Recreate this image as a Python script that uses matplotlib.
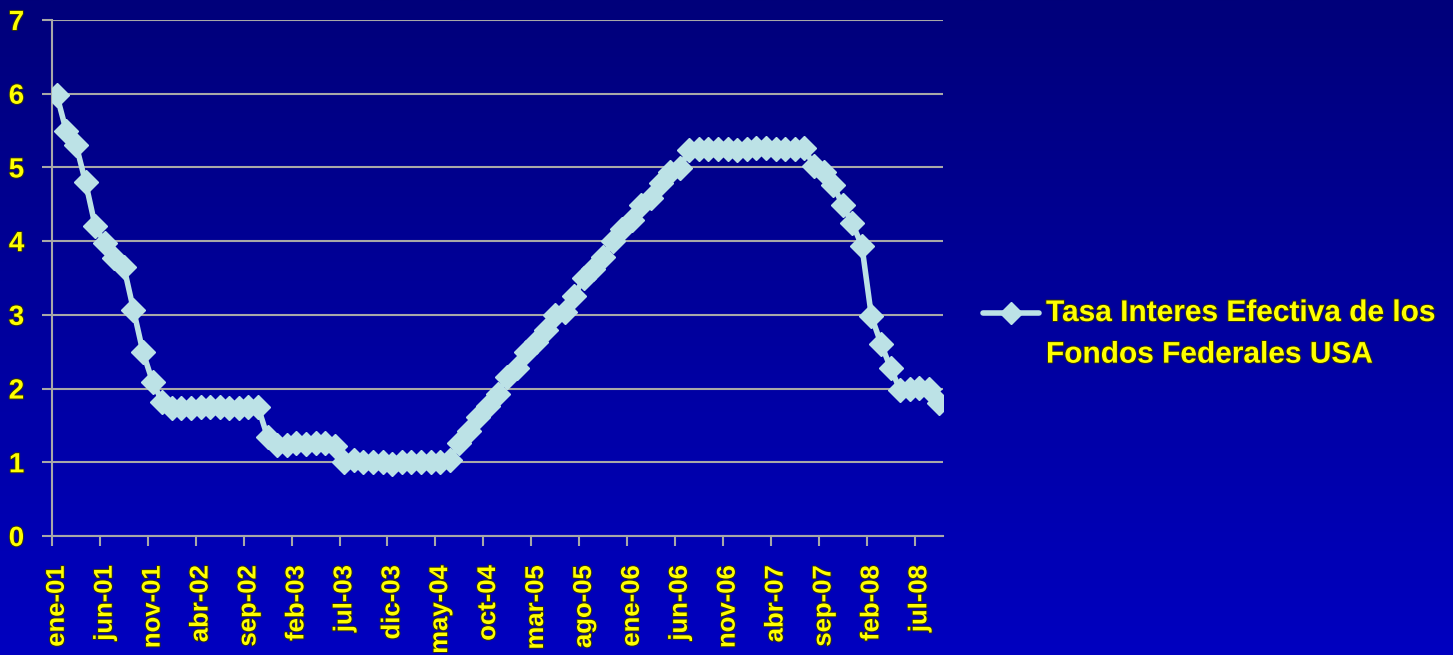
import numpy as np
import matplotlib
matplotlib.use("Agg")
import matplotlib.pyplot as plt
from matplotlib.lines import Line2D
import matplotlib.patheffects as pe

# ---- data ----
months = [
    "ene-01","feb-01","mar-01","abr-01","may-01","jun-01","jul-01","ago-01","sep-01","oct-01","nov-01","dic-01",
    "ene-02","feb-02","mar-02","abr-02","may-02","jun-02","jul-02","ago-02","sep-02","oct-02","nov-02","dic-02",
    "ene-03","feb-03","mar-03","abr-03","may-03","jun-03","jul-03","ago-03","sep-03","oct-03","nov-03","dic-03",
    "ene-04","feb-04","mar-04","abr-04","may-04","jun-04","jul-04","ago-04","sep-04","oct-04","nov-04","dic-04",
    "ene-05","feb-05","mar-05","abr-05","may-05","jun-05","jul-05","ago-05","sep-05","oct-05","nov-05","dic-05",
    "ene-06","feb-06","mar-06","abr-06","may-06","jun-06","jul-06","ago-06","sep-06","oct-06","nov-06","dic-06",
    "ene-07","feb-07","mar-07","abr-07","may-07","jun-07","jul-07","ago-07","sep-07","oct-07","nov-07","dic-07",
    "ene-08","feb-08","mar-08","abr-08","may-08","jun-08","jul-08","ago-08","sep-08",
]
rate = [
    5.98, 5.49, 5.31, 4.80, 4.21, 3.97, 3.77, 3.65, 3.07, 2.49, 2.09, 1.82,
    1.73, 1.74, 1.73, 1.75, 1.75, 1.75, 1.73, 1.74, 1.75, 1.75, 1.34, 1.24,
    1.24, 1.26, 1.25, 1.26, 1.26, 1.22, 1.01, 1.03, 1.01, 1.01, 1.00, 0.98,
    1.00, 1.01, 1.00, 1.00, 1.00, 1.03, 1.26, 1.43, 1.61, 1.76, 1.93, 2.16,
    2.28, 2.50, 2.63, 2.79, 3.00, 3.04, 3.26, 3.50, 3.62, 3.78, 4.00, 4.16,
    4.29, 4.49, 4.59, 4.79, 4.94, 4.99, 5.24, 5.25, 5.25, 5.25, 5.25, 5.24,
    5.25, 5.26, 5.26, 5.25, 5.25, 5.25, 5.26, 5.02, 4.94, 4.76, 4.49, 4.24,
    3.94, 2.98, 2.61, 2.28, 1.98, 2.00, 2.01, 2.00, 1.81,
]
tick_labels = ["ene-01","jun-01","nov-01","abr-02","sep-02","feb-03","jul-03","dic-03",
               "may-04","oct-04","mar-05","ago-05","ene-06","jun-06","nov-06","abr-07",
               "sep-07","feb-08","jul-08"]
y_ticks = [0, 1, 2, 3, 4, 5, 6, 7]
series_name = "Tasa Interes Efectiva de los\nFondos Federales USA"

# ---- style ----
W, H, DPI = 1453, 655, 100
line_col = "#BCE2E6"
txt_col = "#FFFF00"
grid_col = "#A8A8A8"
font_reg = ["Liberation Sans", "DejaVu Sans"]
stroke = [pe.withStroke(linewidth=1.4, foreground="#303010")]

fig = plt.figure(figsize=(W / DPI, H / DPI), dpi=DPI)

# gradient background
bg = fig.add_axes([0, 0, 1, 1], zorder=-10)
grad = np.linspace(0, 1, 256).reshape(-1, 1)
top = np.array([0x00, 0x00, 0x7A]) / 255
bot = np.array([0x00, 0x00, 0xC0]) / 255
img = top[None, None, :] * (1 - grad[:, :, None]) + bot[None, None, :] * grad[:, :, None]
bg.imshow(img, aspect="auto", extent=[0, 1, 0, 1], origin="upper")
bg.set_axis_off()

left, right = 52 / W, 943.3 / W
bottom, topf = (H - 536) / H, (H - 20) / H
ax = fig.add_axes([left, bottom, right - left, topf - bottom])
ax.patch.set_alpha(0)

x = np.arange(len(rate))
ax.plot(x, rate, color=line_col, lw=4, marker="D", ms=12, mfc=line_col,
        mec=line_col, zorder=3, solid_joinstyle="round")

ax.set_xlim(-0.5, len(rate) - 0.5)
ax.set_ylim(0, 7)

# y axis
ax.set_yticks(y_ticks)
ax.set_yticklabels([str(v) for v in y_ticks])
ax.yaxis.grid(True, color=grid_col, lw=1.5)
ax.set_axisbelow(True)

# x axis: ticks at category boundaries, labels at category centres
label_idx = [months.index(lbl) for lbl in tick_labels]
ax.set_xticks([i - 0.5 for i in label_idx])
ax.set_xticklabels([])
ax.set_xticks(label_idx, minor=True)
ax.set_xticklabels(tick_labels, minor=True, rotation=90, va="top", ha="center")

ax.tick_params(axis="both", which="major", direction="out", length=7, width=1.5,
               color=grid_col)
ax.tick_params(axis="x", which="minor", length=0, pad=21)
ax.tick_params(axis="y", which="major", pad=13)

for lbl in ax.get_xticklabels(minor=True):
    lbl.set_fontfamily(font_reg)
    lbl.set_fontweight("bold")
    lbl.set_fontsize(18.5)
    lbl.set_color(txt_col)
    lbl.set_path_effects(stroke)
for lbl in ax.get_yticklabels():
    lbl.set_fontfamily(font_reg)
    lbl.set_fontweight("bold")
    lbl.set_fontsize(20)
    lbl.set_color(txt_col)
    lbl.set_path_effects(stroke)

for s in ["top", "right"]:
    ax.spines[s].set_visible(False)
for s in ["left", "bottom"]:
    ax.spines[s].set_color(grid_col)
    ax.spines[s].set_linewidth(1.5)

# legend (drawn manually)
ly = (H - 313) / H
fig.add_artist(Line2D([983 / W, 1039 / W], [ly, ly], color=line_col, lw=4,
                      solid_capstyle="round"))
fig.add_artist(Line2D([1011 / W], [ly], color=line_col, marker="D", ms=11,
                      mfc=line_col, mec=line_col))
fig.text(1046 / W, (H - 299) / H, series_name, ha="left", va="top",
         fontsize=21.5, fontweight="bold", color=txt_col, family=font_reg,
         linespacing=1.62, path_effects=stroke)

fig.savefig("out.png", dpi=DPI)
